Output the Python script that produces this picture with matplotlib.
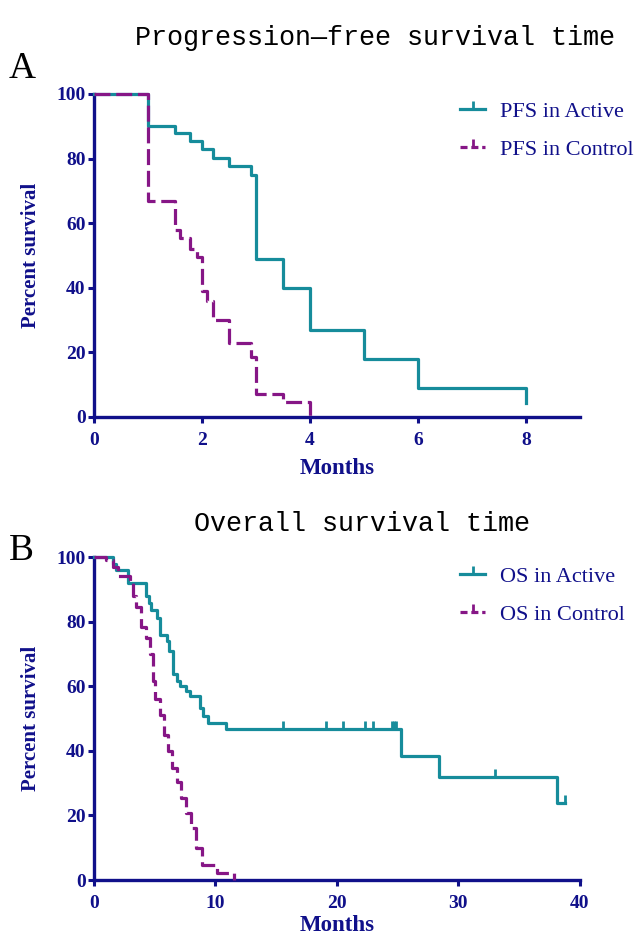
import matplotlib
matplotlib.use("Agg")
import matplotlib.pyplot as plt
from matplotlib.lines import Line2D

# ---------------- data ----------------
pfs_active_t = [0, 1.0, 1.5, 1.78, 2.0, 2.2, 2.5, 2.9, 3.0, 3.5, 4.0, 5.0, 6.0, 8.0]
pfs_active_s = [100, 90, 87.8, 85.4, 83, 80.3, 77.7, 74.9, 49, 40, 26.9, 17.9, 8.9, 4.4]

pfs_control_t = [0, 1.0, 1.5, 1.6, 1.78, 1.9, 2.0, 2.1, 2.2, 2.5, 2.9, 3.0, 3.5, 4.0]
pfs_control_s = [100, 67, 58, 55.5, 52, 49.5, 39, 36, 30, 23, 18.5, 7, 4.5, 0]

os_active_t = [0, 1.6, 1.8, 2.8, 4.3, 4.5, 4.7, 5.2, 5.4, 6.0, 6.2, 6.5, 6.8, 7.1,
               7.6, 7.9, 8.7, 9.0, 9.4, 10.9, 25.3, 28.4, 38.1, 38.8]
os_active_s = [100, 98, 96, 92, 88, 85.7, 83.6, 81, 75.8, 74, 71, 63.7, 61.6, 60,
               58.5, 57, 53.2, 50.7, 48.6, 46.9, 38.3, 31.9, 24, 24]
os_active_cens_t = [15.6, 19.1, 20.5, 22.3, 23.0, 24.5, 24.7, 24.9, 33.0, 38.8]
os_active_cens_s = [46.9, 46.9, 46.9, 46.9, 46.9, 46.9, 46.9, 46.9, 31.9, 24]

os_control_t = [0, 1.0, 1.6, 2.0, 3.0, 3.2, 3.5, 3.9, 4.3, 4.6, 4.9, 5.0, 5.4, 5.8,
                6.1, 6.4, 6.8, 7.2, 7.6, 8.0, 8.4, 8.9, 10.1, 11.5]
os_control_s = [100, 99, 97, 94, 92, 88, 84.6, 78.4, 74.8, 70, 61.6, 56, 51, 45,
                40, 34.6, 30.5, 25.4, 20.7, 16, 9.9, 4.7, 2.1, 0]

pfs_xticks = [0, 2, 4, 6, 8]
os_xticks = [0, 10, 20, 30, 40]
yticks = [0, 20, 40, 60, 80, 100]

# ---------------- style ----------------
NAVY = "#10108a"
TEAL = "#168c9b"
PURPLE = "#861686"
SERIF = "Liberation Serif"
MONO = "Liberation Mono"
LW = 2.3
DASH = (5, 1.8)

fig = plt.figure(figsize=(6.41, 9.40), dpi=100)

def style_axes(ax, xmax, xticks, xlabelpad):
    ax.set_xlim(0, xmax)
    ax.set_ylim(0, 100)
    ax.set_xticks(xticks)
    ax.set_yticks(yticks)
    for s in ("top", "right"):
        ax.spines[s].set_visible(False)
    for s in ("left", "bottom"):
        ax.spines[s].set_color(NAVY)
        ax.spines[s].set_linewidth(2.4)
    ax.tick_params(direction="out", length=4, width=2.2, color=NAVY,
                   labelcolor=NAVY)
    ax.tick_params(axis="x", pad=7)
    ax.tick_params(axis="y", pad=2)
    for lab in ax.get_xticklabels() + ax.get_yticklabels():
        lab.set_fontfamily(SERIF)
        lab.set_fontweight("bold")
        lab.set_fontsize(14)
    ax.set_xlabel("Months", fontfamily=SERIF, fontweight="bold", fontsize=16.5,
                  color=NAVY, labelpad=xlabelpad)
    ax.set_ylabel("Percent survival", fontfamily=SERIF, fontweight="bold",
                  fontsize=15, color=NAVY, labelpad=11)

def legend(ax, labels, anchor):
    h1 = Line2D([], [], color=TEAL, lw=LW, marker=2, markersize=6, mew=2)
    h2 = Line2D([], [], color=PURPLE, lw=LW, ls=(0, (2.2, 1.2)), marker=2,
                markersize=6, mew=2)
    ax.legend([h1, h2], labels, loc="upper left", bbox_to_anchor=anchor,
              frameon=False, numpoints=1, handlelength=1.15, handletextpad=0.65,
              labelspacing=0.78, borderpad=0, borderaxespad=0,
              prop={"family": SERIF, "size": 16}, labelcolor=NAVY)

# ---- panel A ----
axA = fig.add_axes([0.1466, 0.5564, 0.758, 0.3436])
axA.plot(pfs_active_t, pfs_active_s, drawstyle="steps-post", color=TEAL,
         lw=LW, clip_on=False, zorder=3)
axA.plot(pfs_control_t, pfs_control_s, drawstyle="steps-post", color=PURPLE,
         lw=LW, dashes=DASH, clip_on=False, zorder=3)
style_axes(axA, 9, pfs_xticks, 6)
legend(axA, ["PFS in Active", "PFS in Control"], (0.753, 0.978))

# ---- panel B ----
axB = fig.add_axes([0.1466, 0.0638, 0.758, 0.3436])
axB.plot(os_active_t, os_active_s, drawstyle="steps-post", color=TEAL,
         lw=LW, clip_on=False, zorder=3)
axB.plot(os_active_cens_t, os_active_cens_s, ls="none", marker=2, markersize=6,
         mew=2, color=TEAL, clip_on=False, zorder=3)
axB.plot(os_control_t, os_control_s, drawstyle="steps-post", color=PURPLE,
         lw=LW, dashes=DASH, clip_on=False, zorder=3)
style_axes(axB, 40, os_xticks, 2)
legend(axB, ["OS in Active", "OS in Control"], (0.753, 0.972))

# ---- titles and panel letters ----
fig.text(0.585, 1 - 45 / 940, "Progression\u2014free survival time",
         fontfamily=MONO, fontsize=19.3, ha="center", va="baseline", color="black")
fig.text(0.565, 1 - 531 / 940, "Overall survival time",
         fontfamily=MONO, fontsize=19.3, ha="center", va="baseline", color="black")
fig.text(0.014, 1 - 78 / 940, "A", fontfamily=SERIF, fontsize=27,
         ha="left", va="baseline", color="black")
fig.text(0.014, 1 - 560 / 940, "B", fontfamily=SERIF, fontsize=27,
         ha="left", va="baseline", color="black")

fig.savefig("out.png", dpi=100)
